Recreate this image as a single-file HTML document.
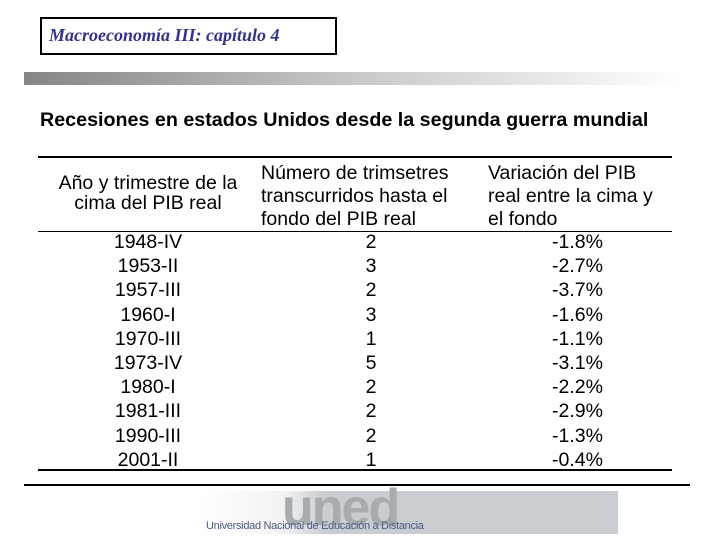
<!DOCTYPE html>
<html><head><meta charset="utf-8"><style>
body{margin:0;width:720px;height:540px;background:#fff;position:relative;overflow:hidden;font-family:"Liberation Sans",Arial,sans-serif}
.a{position:absolute}
.cell{position:absolute;font-size:19.5px;color:#000;line-height:20px}
</style></head><body>
<div class="a" style="left:40px;top:17px;width:293px;height:34px;border:2px solid #000"></div>
<div class="a" style="left:49px;top:25px;font-family:'Liberation Serif',serif;font-style:italic;font-weight:bold;font-size:18px;color:#33338a">Macroeconomía III: capítulo 4</div>
<div class="a" style="left:24px;top:72px;width:660px;height:13px;background:linear-gradient(to right,#858585,#c8c8c8 50%,#fff)"></div>
<div class="a" style="left:40px;top:109px;font-size:19.7px;font-weight:bold;color:#000">Recesiones en estados Unidos desde la segunda guerra mundial</div>
<div class="a" style="left:38px;top:156px;width:634px;height:2px;background:#000"></div>
<div class="a" style="left:38px;top:231px;width:634px;height:1px;background:#000"></div>
<div class="a" style="left:38px;top:469px;width:634px;height:2px;background:#000"></div>
<div class="a" style="left:24px;top:484px;width:666px;height:2px;background:#000"></div>
<div class="cell" style="left:38px;top:173px;width:220px;text-align:center">Año y trimestre de la<br>cima del PIB real</div>
<div class="cell" style="left:261px;top:162px;line-height:23px">Número de trimsetres<br>transcurridos hasta el<br>fondo del PIB real</div>
<div class="cell" style="left:488px;top:162px;line-height:23px">Variación del PIB<br>real entre la cima y<br>el fondo</div>
<div id="rows"></div>
<div class="a" style="left:200px;top:491px;width:418px;height:43px;background:linear-gradient(to right,#fff 0,#f2f2f2 20%,#c9ccd0 30%,#c9ccd0 100%)"></div>
<div class="a" style="left:282px;top:478px;font-size:52px;font-weight:bold;color:#a8abb0;letter-spacing:-2px">uned</div>
<div class="a" style="left:206px;top:520px;font-size:11px;color:#4a5a80;letter-spacing:-0.3px">Universidad Nacional de Educación a Distancia</div>
<script>
const peaks=["1948-IV","1953-II","1957-III","1960-I","1970-III","1973-IV","1980-I","1981-III","1990-III","2001-II"];
const quarters=[2,3,2,3,1,5,2,2,2,1];
const changes=["-1.8%","-2.7%","-3.7%","-1.6%","-1.1%","-3.1%","-2.2%","-2.9%","-1.3%","-0.4%"];
const r=document.getElementById('rows');
peaks.forEach((p,i)=>{
 const y=232+i*24.2;
 const a=document.createElement('div');a.className='cell';a.style.cssText=`left:48px;top:${y}px;width:200px;text-align:center`;a.textContent=p;
 
 r.appendChild(a);
 const b=document.createElement('div');b.className='cell';b.style.cssText=`left:331px;top:${y}px;width:80px;text-align:center`;b.textContent=quarters[i];
 
 r.appendChild(b);
 const c=document.createElement('div');c.className='cell';c.style.cssText=`left:503px;top:${y}px;width:100px;text-align:right`;c.textContent=changes[i];
 
 r.appendChild(c);
});
</script>
</body></html>
